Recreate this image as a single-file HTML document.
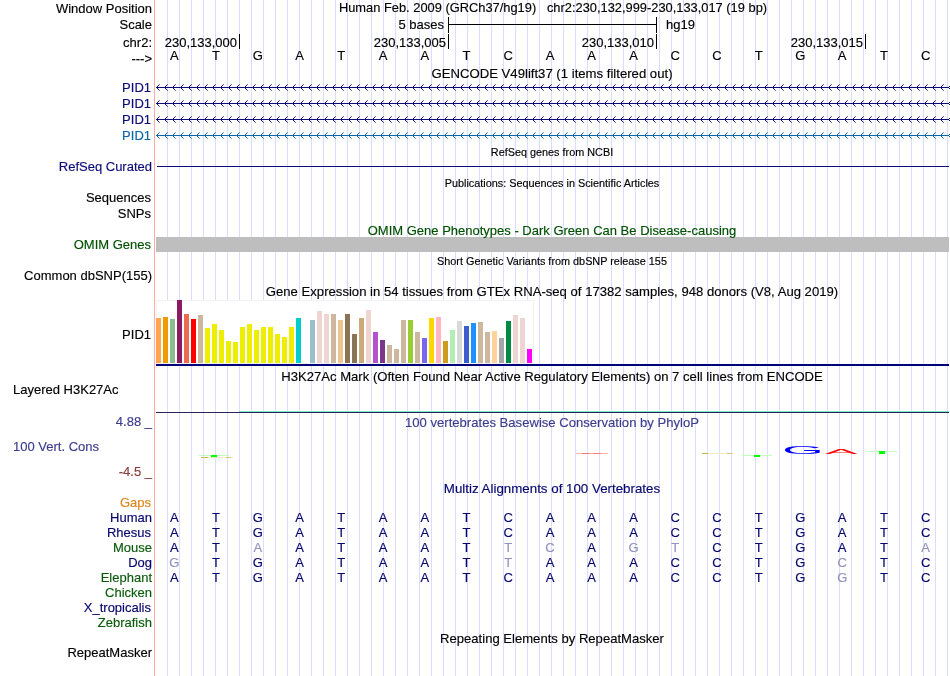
<!DOCTYPE html><html><head><meta charset="utf-8"><title>UCSC Genome Browser</title><style>
html,body{margin:0;padding:0;background:#fff;overflow:hidden}
body{width:950px;height:676px;position:relative;overflow:hidden;font-family:"Liberation Sans",sans-serif;font-size:13px;color:#000}
svg{position:absolute;left:0;top:0}
.t{-webkit-text-stroke:0.15px;position:absolute;white-space:pre;line-height:16px;height:16px}
.r{right:798px;text-align:right}
.c{left:156px;width:792px;text-align:center;transform-origin:50% 50%}
.s{font-size:10.85px}
.b{width:42px;text-align:center}
.nv{color:#0c0c78}
.mz{color:#06066e}
.gr{color:#0a5a0a}
.om{color:#005000}
.lt{color:#9292be}

</style></head><body>
<svg width="950" height="676" viewBox="0 0 950 676" shape-rendering="crispEdges">
<defs>
<pattern id="gl" x="167" y="0" width="12" height="676" patternUnits="userSpaceOnUse"><rect x="0" y="0" width="1" height="676" fill="#dcdcff"/></pattern>
</defs>
<rect x="156" y="0" width="793" height="676" fill="url(#gl)"/>
<rect x="154" y="0" width="1" height="676" fill="#ffaaaa"/>
<g fill="#000"><rect x="448" y="24" width="209" height="1"/><rect x="448" y="17" width="1" height="16"/><rect x="656" y="17" width="1" height="16"/>
<rect x="239" y="34" width="1" height="15"/>
<rect x="448" y="34" width="1" height="15"/>
<rect x="656" y="34" width="1" height="15"/>
<rect x="865" y="34" width="1" height="15"/>
</g>
<rect x="156" y="87" width="793" height="1" fill="#0c0c78"/><path d="M159.6 84.4L156.5 87.5L159.6 90.6M167.6 84.4L164.5 87.5L167.6 90.6M175.6 84.4L172.5 87.5L175.6 90.6M183.6 84.4L180.5 87.5L183.6 90.6M191.6 84.4L188.5 87.5L191.6 90.6M199.6 84.4L196.5 87.5L199.6 90.6M207.6 84.4L204.5 87.5L207.6 90.6M215.6 84.4L212.5 87.5L215.6 90.6M223.6 84.4L220.5 87.5L223.6 90.6M231.6 84.4L228.5 87.5L231.6 90.6M239.6 84.4L236.5 87.5L239.6 90.6M247.6 84.4L244.5 87.5L247.6 90.6M255.6 84.4L252.5 87.5L255.6 90.6M263.6 84.4L260.5 87.5L263.6 90.6M271.6 84.4L268.5 87.5L271.6 90.6M279.6 84.4L276.5 87.5L279.6 90.6M287.6 84.4L284.5 87.5L287.6 90.6M295.6 84.4L292.5 87.5L295.6 90.6M303.6 84.4L300.5 87.5L303.6 90.6M311.6 84.4L308.5 87.5L311.6 90.6M319.6 84.4L316.5 87.5L319.6 90.6M327.6 84.4L324.5 87.5L327.6 90.6M335.6 84.4L332.5 87.5L335.6 90.6M343.6 84.4L340.5 87.5L343.6 90.6M351.6 84.4L348.5 87.5L351.6 90.6M359.6 84.4L356.5 87.5L359.6 90.6M367.6 84.4L364.5 87.5L367.6 90.6M375.6 84.4L372.5 87.5L375.6 90.6M383.6 84.4L380.5 87.5L383.6 90.6M391.6 84.4L388.5 87.5L391.6 90.6M399.6 84.4L396.5 87.5L399.6 90.6M407.6 84.4L404.5 87.5L407.6 90.6M415.6 84.4L412.5 87.5L415.6 90.6M423.6 84.4L420.5 87.5L423.6 90.6M431.6 84.4L428.5 87.5L431.6 90.6M439.6 84.4L436.5 87.5L439.6 90.6M447.6 84.4L444.5 87.5L447.6 90.6M455.6 84.4L452.5 87.5L455.6 90.6M463.6 84.4L460.5 87.5L463.6 90.6M471.6 84.4L468.5 87.5L471.6 90.6M479.6 84.4L476.5 87.5L479.6 90.6M487.6 84.4L484.5 87.5L487.6 90.6M495.6 84.4L492.5 87.5L495.6 90.6M503.6 84.4L500.5 87.5L503.6 90.6M511.6 84.4L508.5 87.5L511.6 90.6M519.6 84.4L516.5 87.5L519.6 90.6M527.6 84.4L524.5 87.5L527.6 90.6M535.6 84.4L532.5 87.5L535.6 90.6M543.6 84.4L540.5 87.5L543.6 90.6M551.6 84.4L548.5 87.5L551.6 90.6M559.6 84.4L556.5 87.5L559.6 90.6M567.6 84.4L564.5 87.5L567.6 90.6M575.6 84.4L572.5 87.5L575.6 90.6M583.6 84.4L580.5 87.5L583.6 90.6M591.6 84.4L588.5 87.5L591.6 90.6M599.6 84.4L596.5 87.5L599.6 90.6M607.6 84.4L604.5 87.5L607.6 90.6M615.6 84.4L612.5 87.5L615.6 90.6M623.6 84.4L620.5 87.5L623.6 90.6M631.6 84.4L628.5 87.5L631.6 90.6M639.6 84.4L636.5 87.5L639.6 90.6M647.6 84.4L644.5 87.5L647.6 90.6M655.6 84.4L652.5 87.5L655.6 90.6M663.6 84.4L660.5 87.5L663.6 90.6M671.6 84.4L668.5 87.5L671.6 90.6M679.6 84.4L676.5 87.5L679.6 90.6M687.6 84.4L684.5 87.5L687.6 90.6M695.6 84.4L692.5 87.5L695.6 90.6M703.6 84.4L700.5 87.5L703.6 90.6M711.6 84.4L708.5 87.5L711.6 90.6M719.6 84.4L716.5 87.5L719.6 90.6M727.6 84.4L724.5 87.5L727.6 90.6M735.6 84.4L732.5 87.5L735.6 90.6M743.6 84.4L740.5 87.5L743.6 90.6M751.6 84.4L748.5 87.5L751.6 90.6M759.6 84.4L756.5 87.5L759.6 90.6M767.6 84.4L764.5 87.5L767.6 90.6M775.6 84.4L772.5 87.5L775.6 90.6M783.6 84.4L780.5 87.5L783.6 90.6M791.6 84.4L788.5 87.5L791.6 90.6M799.6 84.4L796.5 87.5L799.6 90.6M807.6 84.4L804.5 87.5L807.6 90.6M815.6 84.4L812.5 87.5L815.6 90.6M823.6 84.4L820.5 87.5L823.6 90.6M831.6 84.4L828.5 87.5L831.6 90.6M839.6 84.4L836.5 87.5L839.6 90.6M847.6 84.4L844.5 87.5L847.6 90.6M855.6 84.4L852.5 87.5L855.6 90.6M863.6 84.4L860.5 87.5L863.6 90.6M871.6 84.4L868.5 87.5L871.6 90.6M879.6 84.4L876.5 87.5L879.6 90.6M887.6 84.4L884.5 87.5L887.6 90.6M895.6 84.4L892.5 87.5L895.6 90.6M903.6 84.4L900.5 87.5L903.6 90.6M911.6 84.4L908.5 87.5L911.6 90.6M919.6 84.4L916.5 87.5L919.6 90.6M927.6 84.4L924.5 87.5L927.6 90.6M935.6 84.4L932.5 87.5L935.6 90.6M943.6 84.4L940.5 87.5L943.6 90.6M951.6 84.4L948.5 87.5L951.6 90.6" fill="none" stroke="#0c0c78" stroke-width="1" shape-rendering="geometricPrecision"/>
<rect x="156" y="103" width="793" height="1" fill="#0c0c78"/><path d="M159.6 100.4L156.5 103.5L159.6 106.6M167.6 100.4L164.5 103.5L167.6 106.6M175.6 100.4L172.5 103.5L175.6 106.6M183.6 100.4L180.5 103.5L183.6 106.6M191.6 100.4L188.5 103.5L191.6 106.6M199.6 100.4L196.5 103.5L199.6 106.6M207.6 100.4L204.5 103.5L207.6 106.6M215.6 100.4L212.5 103.5L215.6 106.6M223.6 100.4L220.5 103.5L223.6 106.6M231.6 100.4L228.5 103.5L231.6 106.6M239.6 100.4L236.5 103.5L239.6 106.6M247.6 100.4L244.5 103.5L247.6 106.6M255.6 100.4L252.5 103.5L255.6 106.6M263.6 100.4L260.5 103.5L263.6 106.6M271.6 100.4L268.5 103.5L271.6 106.6M279.6 100.4L276.5 103.5L279.6 106.6M287.6 100.4L284.5 103.5L287.6 106.6M295.6 100.4L292.5 103.5L295.6 106.6M303.6 100.4L300.5 103.5L303.6 106.6M311.6 100.4L308.5 103.5L311.6 106.6M319.6 100.4L316.5 103.5L319.6 106.6M327.6 100.4L324.5 103.5L327.6 106.6M335.6 100.4L332.5 103.5L335.6 106.6M343.6 100.4L340.5 103.5L343.6 106.6M351.6 100.4L348.5 103.5L351.6 106.6M359.6 100.4L356.5 103.5L359.6 106.6M367.6 100.4L364.5 103.5L367.6 106.6M375.6 100.4L372.5 103.5L375.6 106.6M383.6 100.4L380.5 103.5L383.6 106.6M391.6 100.4L388.5 103.5L391.6 106.6M399.6 100.4L396.5 103.5L399.6 106.6M407.6 100.4L404.5 103.5L407.6 106.6M415.6 100.4L412.5 103.5L415.6 106.6M423.6 100.4L420.5 103.5L423.6 106.6M431.6 100.4L428.5 103.5L431.6 106.6M439.6 100.4L436.5 103.5L439.6 106.6M447.6 100.4L444.5 103.5L447.6 106.6M455.6 100.4L452.5 103.5L455.6 106.6M463.6 100.4L460.5 103.5L463.6 106.6M471.6 100.4L468.5 103.5L471.6 106.6M479.6 100.4L476.5 103.5L479.6 106.6M487.6 100.4L484.5 103.5L487.6 106.6M495.6 100.4L492.5 103.5L495.6 106.6M503.6 100.4L500.5 103.5L503.6 106.6M511.6 100.4L508.5 103.5L511.6 106.6M519.6 100.4L516.5 103.5L519.6 106.6M527.6 100.4L524.5 103.5L527.6 106.6M535.6 100.4L532.5 103.5L535.6 106.6M543.6 100.4L540.5 103.5L543.6 106.6M551.6 100.4L548.5 103.5L551.6 106.6M559.6 100.4L556.5 103.5L559.6 106.6M567.6 100.4L564.5 103.5L567.6 106.6M575.6 100.4L572.5 103.5L575.6 106.6M583.6 100.4L580.5 103.5L583.6 106.6M591.6 100.4L588.5 103.5L591.6 106.6M599.6 100.4L596.5 103.5L599.6 106.6M607.6 100.4L604.5 103.5L607.6 106.6M615.6 100.4L612.5 103.5L615.6 106.6M623.6 100.4L620.5 103.5L623.6 106.6M631.6 100.4L628.5 103.5L631.6 106.6M639.6 100.4L636.5 103.5L639.6 106.6M647.6 100.4L644.5 103.5L647.6 106.6M655.6 100.4L652.5 103.5L655.6 106.6M663.6 100.4L660.5 103.5L663.6 106.6M671.6 100.4L668.5 103.5L671.6 106.6M679.6 100.4L676.5 103.5L679.6 106.6M687.6 100.4L684.5 103.5L687.6 106.6M695.6 100.4L692.5 103.5L695.6 106.6M703.6 100.4L700.5 103.5L703.6 106.6M711.6 100.4L708.5 103.5L711.6 106.6M719.6 100.4L716.5 103.5L719.6 106.6M727.6 100.4L724.5 103.5L727.6 106.6M735.6 100.4L732.5 103.5L735.6 106.6M743.6 100.4L740.5 103.5L743.6 106.6M751.6 100.4L748.5 103.5L751.6 106.6M759.6 100.4L756.5 103.5L759.6 106.6M767.6 100.4L764.5 103.5L767.6 106.6M775.6 100.4L772.5 103.5L775.6 106.6M783.6 100.4L780.5 103.5L783.6 106.6M791.6 100.4L788.5 103.5L791.6 106.6M799.6 100.4L796.5 103.5L799.6 106.6M807.6 100.4L804.5 103.5L807.6 106.6M815.6 100.4L812.5 103.5L815.6 106.6M823.6 100.4L820.5 103.5L823.6 106.6M831.6 100.4L828.5 103.5L831.6 106.6M839.6 100.4L836.5 103.5L839.6 106.6M847.6 100.4L844.5 103.5L847.6 106.6M855.6 100.4L852.5 103.5L855.6 106.6M863.6 100.4L860.5 103.5L863.6 106.6M871.6 100.4L868.5 103.5L871.6 106.6M879.6 100.4L876.5 103.5L879.6 106.6M887.6 100.4L884.5 103.5L887.6 106.6M895.6 100.4L892.5 103.5L895.6 106.6M903.6 100.4L900.5 103.5L903.6 106.6M911.6 100.4L908.5 103.5L911.6 106.6M919.6 100.4L916.5 103.5L919.6 106.6M927.6 100.4L924.5 103.5L927.6 106.6M935.6 100.4L932.5 103.5L935.6 106.6M943.6 100.4L940.5 103.5L943.6 106.6M951.6 100.4L948.5 103.5L951.6 106.6" fill="none" stroke="#0c0c78" stroke-width="1" shape-rendering="geometricPrecision"/>
<rect x="156" y="119" width="793" height="1" fill="#0c0c78"/><path d="M159.6 116.4L156.5 119.5L159.6 122.6M167.6 116.4L164.5 119.5L167.6 122.6M175.6 116.4L172.5 119.5L175.6 122.6M183.6 116.4L180.5 119.5L183.6 122.6M191.6 116.4L188.5 119.5L191.6 122.6M199.6 116.4L196.5 119.5L199.6 122.6M207.6 116.4L204.5 119.5L207.6 122.6M215.6 116.4L212.5 119.5L215.6 122.6M223.6 116.4L220.5 119.5L223.6 122.6M231.6 116.4L228.5 119.5L231.6 122.6M239.6 116.4L236.5 119.5L239.6 122.6M247.6 116.4L244.5 119.5L247.6 122.6M255.6 116.4L252.5 119.5L255.6 122.6M263.6 116.4L260.5 119.5L263.6 122.6M271.6 116.4L268.5 119.5L271.6 122.6M279.6 116.4L276.5 119.5L279.6 122.6M287.6 116.4L284.5 119.5L287.6 122.6M295.6 116.4L292.5 119.5L295.6 122.6M303.6 116.4L300.5 119.5L303.6 122.6M311.6 116.4L308.5 119.5L311.6 122.6M319.6 116.4L316.5 119.5L319.6 122.6M327.6 116.4L324.5 119.5L327.6 122.6M335.6 116.4L332.5 119.5L335.6 122.6M343.6 116.4L340.5 119.5L343.6 122.6M351.6 116.4L348.5 119.5L351.6 122.6M359.6 116.4L356.5 119.5L359.6 122.6M367.6 116.4L364.5 119.5L367.6 122.6M375.6 116.4L372.5 119.5L375.6 122.6M383.6 116.4L380.5 119.5L383.6 122.6M391.6 116.4L388.5 119.5L391.6 122.6M399.6 116.4L396.5 119.5L399.6 122.6M407.6 116.4L404.5 119.5L407.6 122.6M415.6 116.4L412.5 119.5L415.6 122.6M423.6 116.4L420.5 119.5L423.6 122.6M431.6 116.4L428.5 119.5L431.6 122.6M439.6 116.4L436.5 119.5L439.6 122.6M447.6 116.4L444.5 119.5L447.6 122.6M455.6 116.4L452.5 119.5L455.6 122.6M463.6 116.4L460.5 119.5L463.6 122.6M471.6 116.4L468.5 119.5L471.6 122.6M479.6 116.4L476.5 119.5L479.6 122.6M487.6 116.4L484.5 119.5L487.6 122.6M495.6 116.4L492.5 119.5L495.6 122.6M503.6 116.4L500.5 119.5L503.6 122.6M511.6 116.4L508.5 119.5L511.6 122.6M519.6 116.4L516.5 119.5L519.6 122.6M527.6 116.4L524.5 119.5L527.6 122.6M535.6 116.4L532.5 119.5L535.6 122.6M543.6 116.4L540.5 119.5L543.6 122.6M551.6 116.4L548.5 119.5L551.6 122.6M559.6 116.4L556.5 119.5L559.6 122.6M567.6 116.4L564.5 119.5L567.6 122.6M575.6 116.4L572.5 119.5L575.6 122.6M583.6 116.4L580.5 119.5L583.6 122.6M591.6 116.4L588.5 119.5L591.6 122.6M599.6 116.4L596.5 119.5L599.6 122.6M607.6 116.4L604.5 119.5L607.6 122.6M615.6 116.4L612.5 119.5L615.6 122.6M623.6 116.4L620.5 119.5L623.6 122.6M631.6 116.4L628.5 119.5L631.6 122.6M639.6 116.4L636.5 119.5L639.6 122.6M647.6 116.4L644.5 119.5L647.6 122.6M655.6 116.4L652.5 119.5L655.6 122.6M663.6 116.4L660.5 119.5L663.6 122.6M671.6 116.4L668.5 119.5L671.6 122.6M679.6 116.4L676.5 119.5L679.6 122.6M687.6 116.4L684.5 119.5L687.6 122.6M695.6 116.4L692.5 119.5L695.6 122.6M703.6 116.4L700.5 119.5L703.6 122.6M711.6 116.4L708.5 119.5L711.6 122.6M719.6 116.4L716.5 119.5L719.6 122.6M727.6 116.4L724.5 119.5L727.6 122.6M735.6 116.4L732.5 119.5L735.6 122.6M743.6 116.4L740.5 119.5L743.6 122.6M751.6 116.4L748.5 119.5L751.6 122.6M759.6 116.4L756.5 119.5L759.6 122.6M767.6 116.4L764.5 119.5L767.6 122.6M775.6 116.4L772.5 119.5L775.6 122.6M783.6 116.4L780.5 119.5L783.6 122.6M791.6 116.4L788.5 119.5L791.6 122.6M799.6 116.4L796.5 119.5L799.6 122.6M807.6 116.4L804.5 119.5L807.6 122.6M815.6 116.4L812.5 119.5L815.6 122.6M823.6 116.4L820.5 119.5L823.6 122.6M831.6 116.4L828.5 119.5L831.6 122.6M839.6 116.4L836.5 119.5L839.6 122.6M847.6 116.4L844.5 119.5L847.6 122.6M855.6 116.4L852.5 119.5L855.6 122.6M863.6 116.4L860.5 119.5L863.6 122.6M871.6 116.4L868.5 119.5L871.6 122.6M879.6 116.4L876.5 119.5L879.6 122.6M887.6 116.4L884.5 119.5L887.6 122.6M895.6 116.4L892.5 119.5L895.6 122.6M903.6 116.4L900.5 119.5L903.6 122.6M911.6 116.4L908.5 119.5L911.6 122.6M919.6 116.4L916.5 119.5L919.6 122.6M927.6 116.4L924.5 119.5L927.6 122.6M935.6 116.4L932.5 119.5L935.6 122.6M943.6 116.4L940.5 119.5L943.6 122.6M951.6 116.4L948.5 119.5L951.6 122.6" fill="none" stroke="#0c0c78" stroke-width="1" shape-rendering="geometricPrecision"/>
<rect x="156" y="135" width="793" height="1" fill="#0b65a8"/><path d="M159.6 132.4L156.5 135.5L159.6 138.6M167.6 132.4L164.5 135.5L167.6 138.6M175.6 132.4L172.5 135.5L175.6 138.6M183.6 132.4L180.5 135.5L183.6 138.6M191.6 132.4L188.5 135.5L191.6 138.6M199.6 132.4L196.5 135.5L199.6 138.6M207.6 132.4L204.5 135.5L207.6 138.6M215.6 132.4L212.5 135.5L215.6 138.6M223.6 132.4L220.5 135.5L223.6 138.6M231.6 132.4L228.5 135.5L231.6 138.6M239.6 132.4L236.5 135.5L239.6 138.6M247.6 132.4L244.5 135.5L247.6 138.6M255.6 132.4L252.5 135.5L255.6 138.6M263.6 132.4L260.5 135.5L263.6 138.6M271.6 132.4L268.5 135.5L271.6 138.6M279.6 132.4L276.5 135.5L279.6 138.6M287.6 132.4L284.5 135.5L287.6 138.6M295.6 132.4L292.5 135.5L295.6 138.6M303.6 132.4L300.5 135.5L303.6 138.6M311.6 132.4L308.5 135.5L311.6 138.6M319.6 132.4L316.5 135.5L319.6 138.6M327.6 132.4L324.5 135.5L327.6 138.6M335.6 132.4L332.5 135.5L335.6 138.6M343.6 132.4L340.5 135.5L343.6 138.6M351.6 132.4L348.5 135.5L351.6 138.6M359.6 132.4L356.5 135.5L359.6 138.6M367.6 132.4L364.5 135.5L367.6 138.6M375.6 132.4L372.5 135.5L375.6 138.6M383.6 132.4L380.5 135.5L383.6 138.6M391.6 132.4L388.5 135.5L391.6 138.6M399.6 132.4L396.5 135.5L399.6 138.6M407.6 132.4L404.5 135.5L407.6 138.6M415.6 132.4L412.5 135.5L415.6 138.6M423.6 132.4L420.5 135.5L423.6 138.6M431.6 132.4L428.5 135.5L431.6 138.6M439.6 132.4L436.5 135.5L439.6 138.6M447.6 132.4L444.5 135.5L447.6 138.6M455.6 132.4L452.5 135.5L455.6 138.6M463.6 132.4L460.5 135.5L463.6 138.6M471.6 132.4L468.5 135.5L471.6 138.6M479.6 132.4L476.5 135.5L479.6 138.6M487.6 132.4L484.5 135.5L487.6 138.6M495.6 132.4L492.5 135.5L495.6 138.6M503.6 132.4L500.5 135.5L503.6 138.6M511.6 132.4L508.5 135.5L511.6 138.6M519.6 132.4L516.5 135.5L519.6 138.6M527.6 132.4L524.5 135.5L527.6 138.6M535.6 132.4L532.5 135.5L535.6 138.6M543.6 132.4L540.5 135.5L543.6 138.6M551.6 132.4L548.5 135.5L551.6 138.6M559.6 132.4L556.5 135.5L559.6 138.6M567.6 132.4L564.5 135.5L567.6 138.6M575.6 132.4L572.5 135.5L575.6 138.6M583.6 132.4L580.5 135.5L583.6 138.6M591.6 132.4L588.5 135.5L591.6 138.6M599.6 132.4L596.5 135.5L599.6 138.6M607.6 132.4L604.5 135.5L607.6 138.6M615.6 132.4L612.5 135.5L615.6 138.6M623.6 132.4L620.5 135.5L623.6 138.6M631.6 132.4L628.5 135.5L631.6 138.6M639.6 132.4L636.5 135.5L639.6 138.6M647.6 132.4L644.5 135.5L647.6 138.6M655.6 132.4L652.5 135.5L655.6 138.6M663.6 132.4L660.5 135.5L663.6 138.6M671.6 132.4L668.5 135.5L671.6 138.6M679.6 132.4L676.5 135.5L679.6 138.6M687.6 132.4L684.5 135.5L687.6 138.6M695.6 132.4L692.5 135.5L695.6 138.6M703.6 132.4L700.5 135.5L703.6 138.6M711.6 132.4L708.5 135.5L711.6 138.6M719.6 132.4L716.5 135.5L719.6 138.6M727.6 132.4L724.5 135.5L727.6 138.6M735.6 132.4L732.5 135.5L735.6 138.6M743.6 132.4L740.5 135.5L743.6 138.6M751.6 132.4L748.5 135.5L751.6 138.6M759.6 132.4L756.5 135.5L759.6 138.6M767.6 132.4L764.5 135.5L767.6 138.6M775.6 132.4L772.5 135.5L775.6 138.6M783.6 132.4L780.5 135.5L783.6 138.6M791.6 132.4L788.5 135.5L791.6 138.6M799.6 132.4L796.5 135.5L799.6 138.6M807.6 132.4L804.5 135.5L807.6 138.6M815.6 132.4L812.5 135.5L815.6 138.6M823.6 132.4L820.5 135.5L823.6 138.6M831.6 132.4L828.5 135.5L831.6 138.6M839.6 132.4L836.5 135.5L839.6 138.6M847.6 132.4L844.5 135.5L847.6 138.6M855.6 132.4L852.5 135.5L855.6 138.6M863.6 132.4L860.5 135.5L863.6 138.6M871.6 132.4L868.5 135.5L871.6 138.6M879.6 132.4L876.5 135.5L879.6 138.6M887.6 132.4L884.5 135.5L887.6 138.6M895.6 132.4L892.5 135.5L895.6 138.6M903.6 132.4L900.5 135.5L903.6 138.6M911.6 132.4L908.5 135.5L911.6 138.6M919.6 132.4L916.5 135.5L919.6 138.6M927.6 132.4L924.5 135.5L927.6 138.6M935.6 132.4L932.5 135.5L935.6 138.6M943.6 132.4L940.5 135.5L943.6 138.6M951.6 132.4L948.5 135.5L951.6 138.6" fill="none" stroke="#0b65a8" stroke-width="1" shape-rendering="geometricPrecision"/>
<rect x="157" y="166" width="792" height="1" fill="#0c0c78"/>
<rect x="156" y="237" width="793" height="15" fill="#bebebe"/>
<rect x="156" y="300" width="378" height="64" fill="#fff"/>
<rect x="156.5" y="300.5" width="377" height="63" fill="none" stroke="#f2f2f2"/>
<rect x="156" y="318" width="5" height="45" fill="#FFA54F"/>
<rect x="163" y="317" width="5" height="46" fill="#EE9A00"/>
<rect x="170" y="319" width="5" height="44" fill="#8FBC8F"/>
<rect x="177" y="300" width="5" height="63" fill="#8B1C62"/>
<rect x="184" y="314" width="5" height="49" fill="#EE6A50"/>
<rect x="191" y="319" width="5" height="44" fill="#FF0000"/>
<rect x="198" y="315" width="5" height="48" fill="#CDB79E"/>
<rect x="205" y="328" width="5" height="35" fill="#EEEE00"/>
<rect x="212" y="324" width="5" height="39" fill="#EEEE00"/>
<rect x="219" y="330" width="5" height="33" fill="#EEEE00"/>
<rect x="226" y="341" width="5" height="22" fill="#EEEE00"/>
<rect x="233" y="342" width="5" height="21" fill="#EEEE00"/>
<rect x="240" y="327" width="5" height="36" fill="#EEEE00"/>
<rect x="247" y="324" width="5" height="39" fill="#EEEE00"/>
<rect x="254" y="330" width="5" height="33" fill="#EEEE00"/>
<rect x="261" y="327" width="5" height="36" fill="#EEEE00"/>
<rect x="268" y="327" width="5" height="36" fill="#EEEE00"/>
<rect x="275" y="334" width="5" height="29" fill="#EEEE00"/>
<rect x="282" y="337" width="5" height="26" fill="#EEEE00"/>
<rect x="289" y="327" width="5" height="36" fill="#EEEE00"/>
<rect x="296" y="318" width="5" height="45" fill="#00CDCD"/>
<rect x="310" y="320" width="5" height="43" fill="#9AC0CD"/>
<rect x="317" y="311" width="5" height="52" fill="#EED5D2"/>
<rect x="324" y="314" width="5" height="49" fill="#EED5D2"/>
<rect x="331" y="314" width="5" height="49" fill="#CDB79E"/>
<rect x="338" y="320" width="5" height="43" fill="#EEC591"/>
<rect x="345" y="314" width="5" height="49" fill="#8B7355"/>
<rect x="352" y="334" width="5" height="29" fill="#8B7355"/>
<rect x="359" y="318" width="5" height="45" fill="#CDAA7D"/>
<rect x="366" y="310" width="5" height="53" fill="#EED5D2"/>
<rect x="373" y="332" width="5" height="31" fill="#B452CD"/>
<rect x="380" y="340" width="5" height="23" fill="#7A378B"/>
<rect x="387" y="345" width="5" height="18" fill="#CDB79E"/>
<rect x="394" y="349" width="5" height="14" fill="#CDB79E"/>
<rect x="401" y="320" width="5" height="43" fill="#CDB79E"/>
<rect x="408" y="320" width="5" height="43" fill="#9ACD32"/>
<rect x="415" y="332" width="5" height="31" fill="#CDB79E"/>
<rect x="422" y="338" width="5" height="25" fill="#7A67EE"/>
<rect x="429" y="318" width="5" height="45" fill="#FFD700"/>
<rect x="436" y="317" width="5" height="46" fill="#FFB6C1"/>
<rect x="443" y="341" width="5" height="22" fill="#CD9B1D"/>
<rect x="450" y="330" width="5" height="33" fill="#B4EEB4"/>
<rect x="457" y="321" width="5" height="42" fill="#D9D9D9"/>
<rect x="464" y="326" width="5" height="37" fill="#3A5FCD"/>
<rect x="471" y="323" width="5" height="40" fill="#1E90FF"/>
<rect x="478" y="322" width="5" height="41" fill="#CDB79E"/>
<rect x="485" y="332" width="5" height="31" fill="#CDB79E"/>
<rect x="492" y="331" width="5" height="32" fill="#FFD39B"/>
<rect x="499" y="338" width="5" height="25" fill="#A6A6A6"/>
<rect x="506" y="321" width="5" height="42" fill="#008B45"/>
<rect x="513" y="315" width="5" height="48" fill="#EED5D2"/>
<rect x="520" y="318" width="5" height="45" fill="#EED5D2"/>
<rect x="527" y="349" width="5" height="14" fill="#FF00FF"/>
<rect x="156" y="364" width="793" height="2" fill="#00007a"/>
<rect x="156" y="412" width="793" height="1" fill="#2a2550"/>
<rect x="239" y="411" width="710" height="1" fill="#78ebcc"/>
<g>
<rect x="199" y="455" width="30" height="1" fill="#c0ffc0"/><rect x="211" y="455" width="6" height="2" fill="#00ff00"/>
<rect x="201" y="457" width="32" height="1" fill="#eeeac4"/><rect x="201" y="457" width="7" height="1" fill="#c4b848"/><rect x="226" y="457" width="5" height="1" fill="#d4ca70"/>
<rect x="576" y="453" width="32" height="1" fill="#ffb4b4"/><rect x="582" y="453" width="8" height="1" fill="#ff7878"/><rect x="593" y="453" width="8" height="1" fill="#ff7878"/>
<rect x="702" y="453" width="32" height="1" fill="#eeeac4"/><rect x="702" y="453" width="6" height="1" fill="#c4b848"/><rect x="727" y="453" width="5" height="1" fill="#d4ca70"/>
<rect x="742" y="455" width="30" height="1" fill="#c0ffc0"/><rect x="754" y="455" width="6" height="2" fill="#00ff00"/>
<rect x="867" y="451" width="30" height="1" fill="#c0ffc0"/><rect x="879" y="451" width="6" height="3" fill="#00ff00"/>
</g>
<g shape-rendering="geometricPrecision" font-family="Liberation Sans, sans-serif">
<text x="0" y="0" font-size="10.6" fill="#0000ff" transform="translate(782.3,453.9) scale(5.03,1)">G</text>
<text x="0" y="0" font-size="7" fill="#ff0000" transform="translate(824.8,454) scale(7.05,1)">A</text>
</g>
</svg>
<div class="t r" style="top:1px;">Window Position</div>
<div class="t r" style="top:17px;">Scale</div>
<div class="t r" style="top:35px;">chr2:</div>
<div class="t r" style="top:51px;">---&gt;</div>
<div class="t r nv" style="top:80px;right:799px">PID1</div>
<div class="t r nv" style="top:96px;right:799px">PID1</div>
<div class="t r nv" style="top:112px;right:799px">PID1</div>
<div class="t r" style="top:128px;color:#0b65a8;right:799px">PID1</div>
<div class="t r nv" style="top:159px;">RefSeq Curated</div>
<div class="t r" style="top:190px;right:799px">Sequences</div>
<div class="t r" style="top:206px;right:799px">SNPs</div>
<div class="t r om" style="top:237px;right:799px">OMIM Genes</div>
<div class="t r" style="top:268px;">Common dbSNP(155)</div>
<div class="t r" style="top:327px;right:799px">PID1</div>
<div class="t " style="top:382px;left:13px">Layered H3K27Ac</div>
<div class="t " style="top:439px;left:13px;color:#3c3c8c">100 Vert. Cons</div>
<div class="t r" style="top:414px;color:#3c3c8c">4.88 _</div>
<div class="t r" style="top:464px;color:#8b3a3a">-4.5 _</div>
<div class="t r" style="top:495px;color:#e0861a;right:799px">Gaps</div>
<div class="t r mz" style="top:510px;">Human</div>
<div class="t r mz" style="top:525px;right:799px">Rhesus</div>
<div class="t r gr" style="top:540px;">Mouse</div>
<div class="t r mz" style="top:555px;">Dog</div>
<div class="t r gr" style="top:570px;">Elephant</div>
<div class="t r gr" style="top:585px;">Chicken</div>
<div class="t r mz" style="top:600px;right:799px">X_tropicalis</div>
<div class="t r gr" style="top:615px;">Zebrafish</div>
<div class="t r" style="top:645px;">RepeatMasker</div>
<div class="t c" style="top:0px;transform:translateX(1px) scaleX(0.989)">Human Feb. 2009 (GRCh37/hg19)   chr2:230,132,999-230,133,017 (19 bp)</div>
<div class="t c" style="top:66px;transform:scaleX(1.011)">GENCODE V49lift37 (1 items filtered out)</div>
<div class="t c s" style="top:144px;">RefSeq genes from NCBI</div>
<div class="t c s" style="top:175px;">Publications: Sequences in Scientific Articles</div>
<div class="t c om" style="top:223px;">OMIM Gene Phenotypes - Dark Green Can Be Disease-causing</div>
<div class="t c s" style="top:253px;">Short Genetic Variants from dbSNP release 155</div>
<div class="t c" style="top:284px;transform:scaleX(1.009)">Gene Expression in 54 tissues from GTEx RNA-seq of 17382 samples, 948 donors (V8, Aug 2019)</div>
<div class="t c" style="top:369px;transform:scaleX(1.0075)">H3K27Ac Mark (Often Found Near Active Regulatory Elements) on 7 cell lines from ENCODE</div>
<div class="t c" style="top:415px;color:#3c3c8c;transform:scaleX(1.007)">100 vertebrates Basewise Conservation by PhyloP</div>
<div class="t c mz" style="top:481px;transform:scaleX(1.025)">Multiz Alignments of 100 Vertebrates</div>
<div class="t c" style="top:631px;transform:scaleX(1.006)">Repeating Elements by RepeatMasker</div>
<div class="t " style="top:17px;right:506px">5 bases</div>
<div class="t " style="top:17px;left:666px">hg19</div>
<div class="t " style="top:35px;right:713px">230,133,000</div>
<div class="t " style="top:35px;right:504px">230,133,005</div>
<div class="t " style="top:35px;right:296px">230,133,010</div>
<div class="t " style="top:35px;right:87px">230,133,015</div>
<div class="t b " style="top:48px;left:153.4px">A</div>
<div class="t b " style="top:48px;left:195.1px">T</div>
<div class="t b " style="top:48px;left:236.8px">G</div>
<div class="t b " style="top:48px;left:278.6px">A</div>
<div class="t b " style="top:48px;left:320.3px">T</div>
<div class="t b " style="top:48px;left:362.1px">A</div>
<div class="t b " style="top:48px;left:403.8px">A</div>
<div class="t b " style="top:48px;left:445.5px">T</div>
<div class="t b " style="top:48px;left:487.3px">C</div>
<div class="t b " style="top:48px;left:529.0px">A</div>
<div class="t b " style="top:48px;left:570.7px">A</div>
<div class="t b " style="top:48px;left:612.5px">A</div>
<div class="t b " style="top:48px;left:654.2px">C</div>
<div class="t b " style="top:48px;left:695.9px">C</div>
<div class="t b " style="top:48px;left:737.7px">T</div>
<div class="t b " style="top:48px;left:779.4px">G</div>
<div class="t b " style="top:48px;left:821.2px">A</div>
<div class="t b " style="top:48px;left:862.9px">T</div>
<div class="t b " style="top:48px;left:904.6px">C</div>
<div class="t b mz" style="top:510px;left:153.4px">A</div>
<div class="t b mz" style="top:510px;left:195.1px">T</div>
<div class="t b mz" style="top:510px;left:236.8px">G</div>
<div class="t b mz" style="top:510px;left:278.6px">A</div>
<div class="t b mz" style="top:510px;left:320.3px">T</div>
<div class="t b mz" style="top:510px;left:362.1px">A</div>
<div class="t b mz" style="top:510px;left:403.8px">A</div>
<div class="t b mz" style="top:510px;left:445.5px">T</div>
<div class="t b mz" style="top:510px;left:487.3px">C</div>
<div class="t b mz" style="top:510px;left:529.0px">A</div>
<div class="t b mz" style="top:510px;left:570.7px">A</div>
<div class="t b mz" style="top:510px;left:612.5px">A</div>
<div class="t b mz" style="top:510px;left:654.2px">C</div>
<div class="t b mz" style="top:510px;left:695.9px">C</div>
<div class="t b mz" style="top:510px;left:737.7px">T</div>
<div class="t b mz" style="top:510px;left:779.4px">G</div>
<div class="t b mz" style="top:510px;left:821.2px">A</div>
<div class="t b mz" style="top:510px;left:862.9px">T</div>
<div class="t b mz" style="top:510px;left:904.6px">C</div>
<div class="t b mz" style="top:525px;left:153.4px">A</div>
<div class="t b mz" style="top:525px;left:195.1px">T</div>
<div class="t b mz" style="top:525px;left:236.8px">G</div>
<div class="t b mz" style="top:525px;left:278.6px">A</div>
<div class="t b mz" style="top:525px;left:320.3px">T</div>
<div class="t b mz" style="top:525px;left:362.1px">A</div>
<div class="t b mz" style="top:525px;left:403.8px">A</div>
<div class="t b mz" style="top:525px;left:445.5px">T</div>
<div class="t b mz" style="top:525px;left:487.3px">C</div>
<div class="t b mz" style="top:525px;left:529.0px">A</div>
<div class="t b mz" style="top:525px;left:570.7px">A</div>
<div class="t b mz" style="top:525px;left:612.5px">A</div>
<div class="t b mz" style="top:525px;left:654.2px">C</div>
<div class="t b mz" style="top:525px;left:695.9px">C</div>
<div class="t b mz" style="top:525px;left:737.7px">T</div>
<div class="t b mz" style="top:525px;left:779.4px">G</div>
<div class="t b mz" style="top:525px;left:821.2px">A</div>
<div class="t b mz" style="top:525px;left:862.9px">T</div>
<div class="t b mz" style="top:525px;left:904.6px">C</div>
<div class="t b mz" style="top:540px;left:153.4px">A</div>
<div class="t b mz" style="top:540px;left:195.1px">T</div>
<div class="t b lt" style="top:540px;left:236.8px">A</div>
<div class="t b mz" style="top:540px;left:278.6px">A</div>
<div class="t b mz" style="top:540px;left:320.3px">T</div>
<div class="t b mz" style="top:540px;left:362.1px">A</div>
<div class="t b mz" style="top:540px;left:403.8px">A</div>
<div class="t b mz" style="top:540px;left:445.5px">T</div>
<div class="t b lt" style="top:540px;left:487.3px">T</div>
<div class="t b lt" style="top:540px;left:529.0px">C</div>
<div class="t b mz" style="top:540px;left:570.7px">A</div>
<div class="t b lt" style="top:540px;left:612.5px">G</div>
<div class="t b lt" style="top:540px;left:654.2px">T</div>
<div class="t b mz" style="top:540px;left:695.9px">C</div>
<div class="t b mz" style="top:540px;left:737.7px">T</div>
<div class="t b mz" style="top:540px;left:779.4px">G</div>
<div class="t b mz" style="top:540px;left:821.2px">A</div>
<div class="t b mz" style="top:540px;left:862.9px">T</div>
<div class="t b lt" style="top:540px;left:904.6px">A</div>
<div class="t b lt" style="top:555px;left:153.4px">G</div>
<div class="t b mz" style="top:555px;left:195.1px">T</div>
<div class="t b mz" style="top:555px;left:236.8px">G</div>
<div class="t b mz" style="top:555px;left:278.6px">A</div>
<div class="t b mz" style="top:555px;left:320.3px">T</div>
<div class="t b mz" style="top:555px;left:362.1px">A</div>
<div class="t b mz" style="top:555px;left:403.8px">A</div>
<div class="t b mz" style="top:555px;left:445.5px">T</div>
<div class="t b lt" style="top:555px;left:487.3px">T</div>
<div class="t b mz" style="top:555px;left:529.0px">A</div>
<div class="t b mz" style="top:555px;left:570.7px">A</div>
<div class="t b mz" style="top:555px;left:612.5px">A</div>
<div class="t b mz" style="top:555px;left:654.2px">C</div>
<div class="t b mz" style="top:555px;left:695.9px">C</div>
<div class="t b mz" style="top:555px;left:737.7px">T</div>
<div class="t b mz" style="top:555px;left:779.4px">G</div>
<div class="t b lt" style="top:555px;left:821.2px">C</div>
<div class="t b mz" style="top:555px;left:862.9px">T</div>
<div class="t b mz" style="top:555px;left:904.6px">C</div>
<div class="t b mz" style="top:570px;left:153.4px">A</div>
<div class="t b mz" style="top:570px;left:195.1px">T</div>
<div class="t b mz" style="top:570px;left:236.8px">G</div>
<div class="t b mz" style="top:570px;left:278.6px">A</div>
<div class="t b mz" style="top:570px;left:320.3px">T</div>
<div class="t b mz" style="top:570px;left:362.1px">A</div>
<div class="t b mz" style="top:570px;left:403.8px">A</div>
<div class="t b mz" style="top:570px;left:445.5px">T</div>
<div class="t b mz" style="top:570px;left:487.3px">C</div>
<div class="t b mz" style="top:570px;left:529.0px">A</div>
<div class="t b mz" style="top:570px;left:570.7px">A</div>
<div class="t b mz" style="top:570px;left:612.5px">A</div>
<div class="t b mz" style="top:570px;left:654.2px">C</div>
<div class="t b mz" style="top:570px;left:695.9px">C</div>
<div class="t b mz" style="top:570px;left:737.7px">T</div>
<div class="t b mz" style="top:570px;left:779.4px">G</div>
<div class="t b lt" style="top:570px;left:821.2px">G</div>
<div class="t b mz" style="top:570px;left:862.9px">T</div>
<div class="t b mz" style="top:570px;left:904.6px">C</div>
</body></html>
